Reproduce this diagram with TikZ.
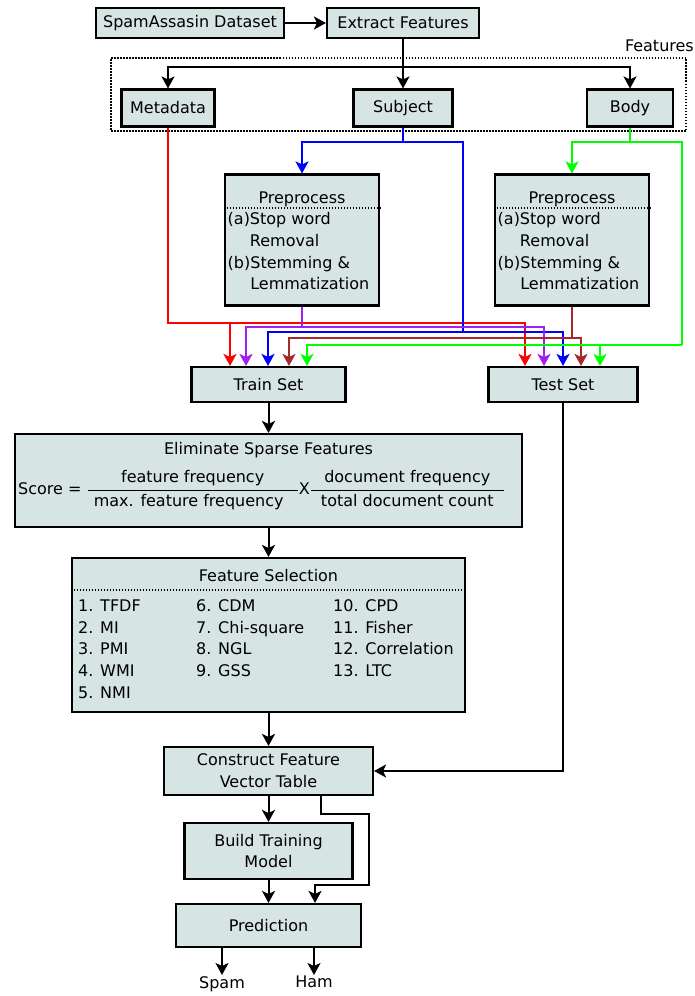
\documentclass[tikz,border=0pt]{standalone}
\usepackage{fontspec}
\setmainfont{DejaVu Sans}
\usepackage{amsmath}
\usetikzlibrary{arrows.meta}
\definecolor{boxfill}{RGB}{214,228,227}
\definecolor{prp}{RGB}{160,32,240}
\definecolor{brn}{RGB}{165,42,42}
\definecolor{grn}{RGB}{0,255,0}
\tikzset{
  box/.style={draw, line width=2.1pt, fill=boxfill, inner sep=0pt, align=center},
  wire/.style={line width=2pt},
  dotline/.style={line width=1.4pt, dash pattern=on 1.5pt off 1.5pt},
}

\begin{document}
\begin{tikzpicture}[x=1pt,y=-1pt,font=\fontsize{16}{21.7}\selectfont,>={Stealth[length=12pt,width=13pt,inset=3pt]}]
\useasboundingbox (0,0) rectangle (695,996);
% top part
\node[box,minimum width=188pt,minimum height=30pt] (data) at (190,23) {SpamAssasin Dataset};
\node[box,minimum width=152pt,minimum height=30pt] (extract) at (403,23) {Extract Features};
\node[anchor=east,inner sep=0pt] (featlbl) at (694,46) {Features};
\node[draw,dotline,minimum width=575pt,minimum height=73pt] (featbox) at (398.5,94.5) {};
\node[box,minimum width=93pt,minimum height=37pt] (meta) at (168,108) {Metadata};
\node[box,minimum width=99pt,minimum height=37pt] (subject) at (403,108) {Subject};
\node[box,minimum width=86pt,minimum height=37pt] (body) at (630,108) {Body};
\coordinate (split) at (403,67);

% preprocessing
\node[box,minimum width=154pt,minimum height=131pt] (prepL) at (302,240) {};
\node[anchor=base] (prepLt) at (302,203) {Preprocess};
\draw[dotline] (prepL.west |- 0,208) -- (prepL.east |- 0,208);
\node[anchor=north west,inner sep=0pt,align=left] (prepLx) at (227.5,212.5) {(a)Stop word\\\phantom{(a)}Removal\\(b)Stemming \&\\\phantom{(b)}Lemmatization};
\node[box,minimum width=154pt,minimum height=131pt] (prepR) at (572,240) {};
\node[anchor=base] (prepRt) at (572,203) {Preprocess};
\draw[dotline] (prepR.west |- 0,208) -- (prepR.east |- 0,208);
\node[anchor=north west,inner sep=0pt,align=left] (prepRx) at (497.5,212.5) {(a)Stop word\\\phantom{(a)}Removal\\(b)Stemming \&\\\phantom{(b)}Lemmatization};

\node[box,minimum width=154pt,minimum height=35pt] (train) at (268.5,384.5) {Train Set};
\node[box,minimum width=149pt,minimum height=35pt] (test) at (563,384.5) {Test Set};

% metadata
\draw[wire,red,->] (meta) |- (230,323) -- (230,0 |- train.north);
\draw[wire,red,->] (230,323) -| (525,0 |- test.north);
% subject
\draw[wire,blue,->] (subject) -- ++(0,34) coordinate (bsplit) -| (prepL);
\draw[wire,blue] (bsplit) -| (463,332);
\draw[wire,blue,->] (463,332) -| (268,0 |- train.north);
\draw[wire,blue,->] (463,332) -| (563,0 |- test.north);
% subject, preprocessed
\draw[wire,prp,->] (prepL) |- (246,327) -- (246,0 |- train.north);
\draw[wire,prp,->] (302,327) -| (544,0 |- test.north);
% body, preprocessed
\draw[wire,brn,->] (prepR) |- (289,338) -- (289,0 |- train.north);
\draw[wire,brn,->] (572,338) -| (581,0 |- test.north);
% body
\draw[wire,grn,->] (body) -- ++(0,34) coordinate (gsplit) -| (prepR);
\draw[wire,grn] (gsplit) -| (682,345);
\draw[wire,grn,->] (682,345) -| (307,0 |- train.north);
\draw[wire,grn,->] (682,345) -| (600,0 |- test.north);

% lower part
\node[box,minimum width=507pt,minimum height=93pt] (elim) at (268.5,480.5) {};
\node[anchor=base] (elimt) at (268.5,454) {Eliminate Sparse Features};
\node[anchor=west,inner sep=0pt] (score) at (18,490) {Score = $\dfrac{\text{feature frequency}}{\hspace{6pt}\text{max. feature frequency}\hspace{14pt}}$X$\dfrac{\text{document frequency}}{\hspace{10pt}\text{total document count}\hspace{10pt}}$};

\node[box,minimum width=393pt,minimum height=154pt] (fsel) at (268.5,635) {};
\node[anchor=base] (fselt) at (268.5,581) {Feature Selection};
\draw[dotline] (fsel.west |- 0,590) -- (fsel.east |- 0,590);
\node[anchor=north west,inner sep=0pt,align=left] (colA) at (78,599.5) {1. TFDF\\2. MI\\3. PMI\\4. WMI\\5. NMI};
\node[anchor=north west,inner sep=0pt,align=left] (colB) at (196,599.5) {6. CDM\\7. Chi-square\\8. NGL\\9. GSS};
\node[anchor=north west,inner sep=0pt,align=left] (colC) at (333,599.5) {10. CPD\\11. Fisher\\12. Correlation\\13. LTC};

\node[box,minimum width=209pt,minimum height=48pt] (construct) at (268.5,771) {Construct Feature\\Vector Table};
\node[box,minimum width=168pt,minimum height=56pt] (build) at (268.5,851) {Build Training\\Model};
\node[box,minimum width=185pt,minimum height=43pt] (pred) at (268.5,925.5) {Prediction};
\node[anchor=north,inner sep=1pt] (spam) at (222,975) {Spam};
\node[anchor=north,inner sep=1pt] (ham) at (314,975) {Ham};

\draw[wire,->] (data) -- (extract);
\draw[wire,->] (extract) -- (subject);
\draw[wire,->] (split) -| (meta);
\draw[wire,->] (split) -| (body);
\draw[wire,->] (train) -- (elim);
\draw[wire,->] (elim) -- (fsel);
\draw[wire,->] (fsel) -- (construct);
\draw[wire,->] (test) |- (construct);
\draw[wire,->] (construct) -- (build);
\draw[wire,->] (build) -- (pred);
\draw[wire,->] (321,0 |- construct.south) |- (369,814) |- (315,885) -- (315,0 |- pred.north);
\draw[wire,->] (spam |- pred.south) -- (spam);
\draw[wire,->] (ham |- pred.south) -- (ham);
\end{tikzpicture}
\end{document}
